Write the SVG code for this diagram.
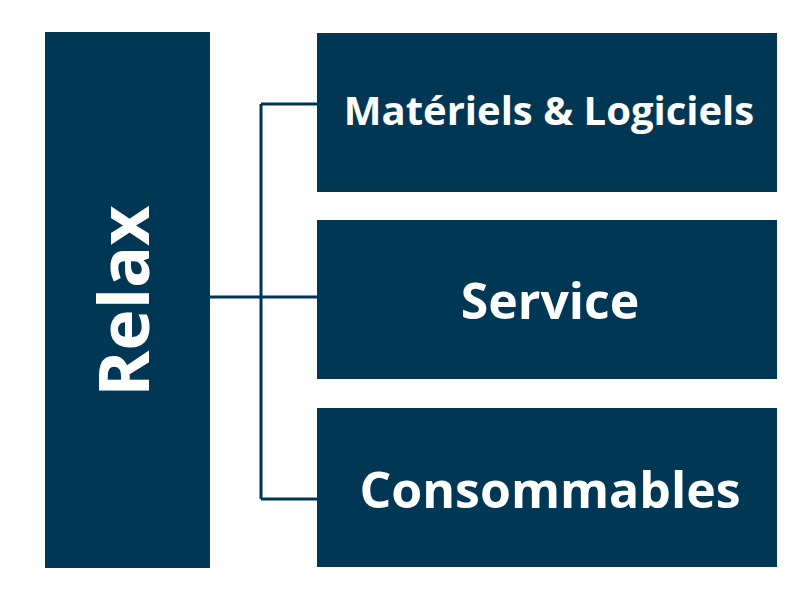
<svg xmlns="http://www.w3.org/2000/svg" width="800" height="600" viewBox="0 0 800 600">
<style>
.box{fill:#003755}
.t{fill:#fff;font-family:"Open Sans",sans-serif;font-weight:bold;text-anchor:middle;dominant-baseline:central}
.c{stroke:#003755;stroke-width:3;fill:none}
</style>
<rect width="800" height="600" fill="#fff"/>
<g id="connectors">
<path class="c" d="M210 297H317M261 104V499M261 104H317M261 499H317"/>
</g>
<g id="relax"><rect class="box" x="45" y="32" width="165" height="536"/>
<text class="t" font-size="70" transform="translate(122 301) rotate(-90)">Relax</text></g>
<g id="materiels"><rect class="box" x="317" y="33" width="460" height="159"/>
<text class="t" x="549" y="109" font-size="40">Matériels &amp; Logiciels</text></g>
<g id="service"><rect class="box" x="317" y="220" width="460" height="159"/>
<text class="t" x="550" y="300" font-size="50">Service</text></g>
<g id="consommables"><rect class="box" x="317" y="408" width="460" height="159"/>
<text class="t" x="550" y="489" font-size="50">Consommables</text></g>
</svg>
